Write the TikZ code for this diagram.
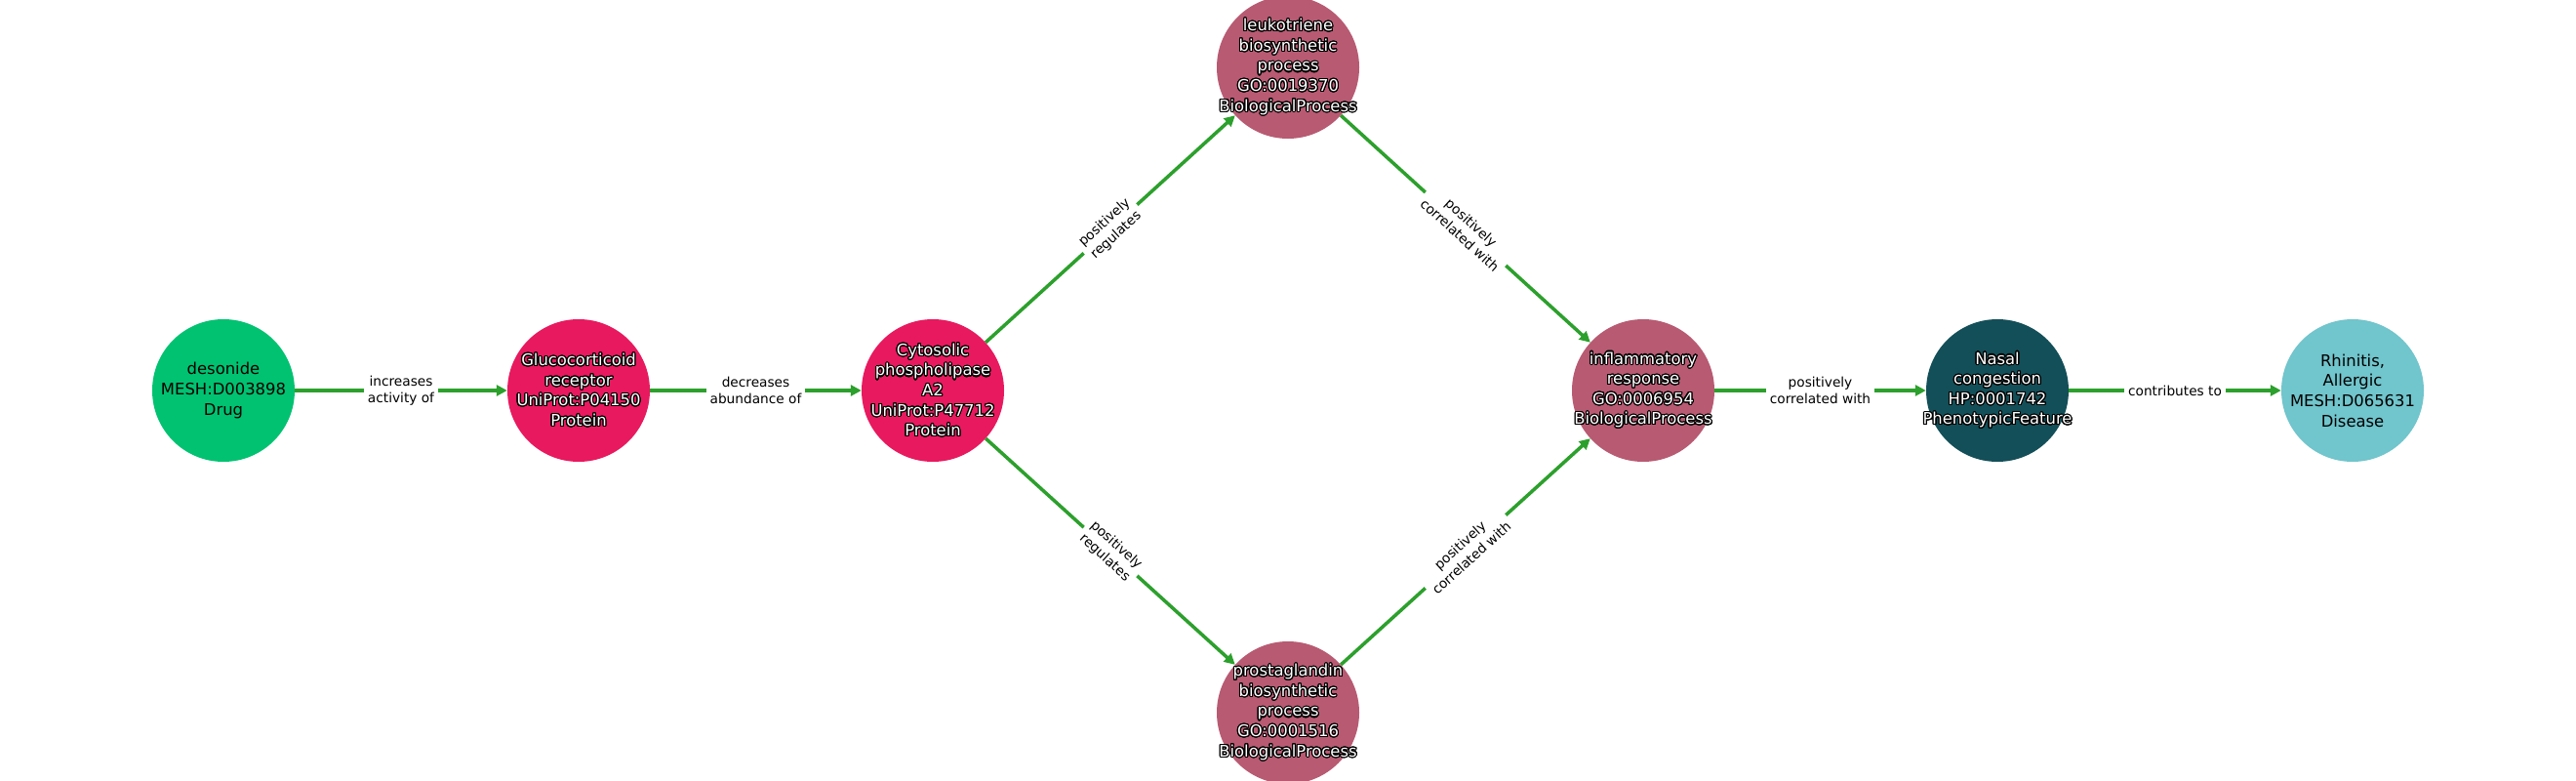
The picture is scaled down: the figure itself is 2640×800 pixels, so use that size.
\documentclass[tikz,border=0pt]{standalone}
\usepackage{fontspec}
\setmainfont{DejaVu Sans}
\usepackage{contour}
\contourlength{1.1pt}
\contournumber{24}
\usetikzlibrary{arrows.meta}
\definecolor{drugc}{HTML}{00C271}
\definecolor{protc}{HTML}{E8195F}
\definecolor{bioc}{HTML}{B85A72}
\definecolor{phenc}{HTML}{134F58}
\definecolor{disc}{HTML}{71C5CC}
\definecolor{edgec}{HTML}{2CA02C}
\newcommand{\wt}[1]{\contour{black}{#1}}
\begin{document}
\begin{tikzpicture}[x=1pt,y=-1pt,
  ent/.style={circle,minimum size=146pt,inner sep=0pt,draw=none},
  ntext/.style={align=center,font=\fontsize{16.4}{20.6}\selectfont,inner sep=0pt,text=black},
  wtext/.style={ntext,text=white},
  rel/.style={draw=edgec,line width=3.5pt,-{Triangle[length=11pt,width=11pt]}},
  elab/.style={fill=white,align=center,font=\fontsize{13.7}{17.4}\selectfont,inner sep=4pt,text=black},
]
\fill[white] (0,0) rectangle (2640,800);
\useasboundingbox (0,0) rectangle (2640,800);
\clip (0,0) rectangle (2640,800);

\node[ent,fill=drugc] (des) at (229,400) {};
\node[ent,fill=protc] (glu) at (593,400) {};
\node[ent,fill=protc] (cyt) at (956,400) {};
\node[ent,fill=bioc] (leu) at (1320,69) {};
\node[ent,fill=bioc] (pro) at (1320,730) {};
\node[ent,fill=bioc] (inf) at (1684,400) {};
\node[ent,fill=phenc] (nas) at (2047,400) {};
\node[ent,fill=disc] (rhi) at (2411,400) {};

\draw[rel] (des) -- node[elab]{increases\\activity of} (glu);
\draw[rel] (glu) -- node[elab]{decreases\\abundance of} (cyt);
\draw[rel] (cyt) -- node[elab,sloped]{positively\\regulates} (leu);
\draw[rel] (cyt) -- node[elab,sloped]{positively\\regulates} (pro);
\draw[rel] (leu) -- node[elab,sloped]{positively\\correlated with} (inf);
\draw[rel] (pro) -- node[elab,sloped]{positively\\correlated with} (inf);
\draw[rel] (inf) -- node[elab]{positively\\correlated with} (nas);
\draw[rel] (nas) -- node[elab]{contributes to} (rhi);

\node[ntext] (desT) at (des) {desonide\\MESH:D003898\\Drug};
\node[wtext] (gluT) at (glu) {\wt{Glucocorticoid}\\\wt{receptor}\\\wt{UniProt:P04150}\\\wt{Protein}};
\node[wtext] (cytT) at (cyt) {\wt{Cytosolic}\\\wt{phospholipase}\\\wt{A2}\\\wt{UniProt:P47712}\\\wt{Protein}};
\node[wtext] (leuT) at (leu) {\wt{leukotriene}\\\wt{biosynthetic}\\\wt{process}\\\wt{GO:0019370}\\\wt{BiologicalProcess}};
\node[wtext] (proT) at (pro) {\wt{prostaglandin}\\\wt{biosynthetic}\\\wt{process}\\\wt{GO:0001516}\\\wt{BiologicalProcess}};
\node[wtext] (infT) at (inf) {\wt{inflammatory}\\\wt{response}\\\wt{GO:0006954}\\\wt{BiologicalProcess}};
\node[wtext] (nasT) at (nas) {\wt{Nasal}\\\wt{congestion}\\\wt{HP:0001742}\\\wt{PhenotypicFeature}};
\node[ntext] (rhiT) at (rhi) {Rhinitis,\\Allergic\\MESH:D065631\\Disease};
\end{tikzpicture}
\end{document}
